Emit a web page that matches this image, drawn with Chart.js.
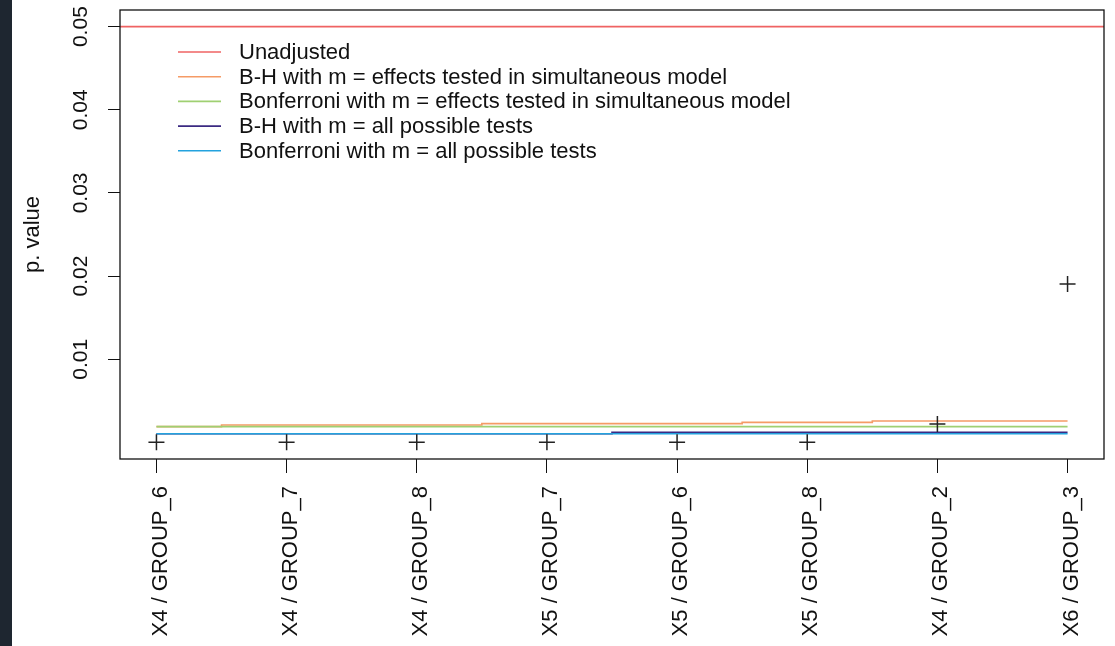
<!DOCTYPE html>
<html lang="en">
<head>
  <meta charset="UTF-8">
  <title>p. value</title>
  <script src="https://cdn.jsdelivr.net/npm/chart.js"></script>
  <style>
    body {
      margin: 0;
      background: white;
    }
    #strip {
      position: absolute;
      left: 0;
      top: 0;
      width: 12px;
      height: 646px;
      background-color: #1e2630;
      z-index: 2;
    }
    #chart {
      position: absolute;
      left: 0;
      top: 0;
    }
  </style>
</head>
<body>

  <div id="strip"></div>
  <canvas id="chart" width="1115" height="646"></canvas>

  <script>
    const categories = ['X4 / GROUP_6', 'X4 / GROUP_7', 'X4 / GROUP_8', 'X5 / GROUP_7',
                        'X5 / GROUP_6', 'X5 / GROUP_8', 'X4 / GROUP_2', 'X6 / GROUP_3'];
    const pValues = [0.00001, 0.00001, 0.00001, 0.00001, 0.00001, 0.00001, 0.00221, 0.01905];
    const unadjusted = 0.05;
    const bhSimultaneous = [0.00189, 0.00209, 0.00209, 0.00225, 0.00225, 0.00241, 0.00257, 0.00257];
    const bonfSimultaneous = [0.00189, 0.00189, 0.00189, 0.00189, 0.00189, 0.00189, 0.00189, 0.00189];
    const bhAll = [0.00104, 0.00104, 0.00104, 0.00104, 0.00120, 0.00120, 0.00120, 0.00120];
    const bonfAll = [0.00104, 0.00104, 0.00104, 0.00104, 0.00104, 0.00104, 0.00104, 0.00104];
    const yTicks = [0.01, 0.02, 0.03, 0.04, 0.05];
    const yTickLabels = ['0.01', '0.02', '0.03', '0.04', '0.05'];

    const seriesLabels = ['Unadjusted',
                          'B-H with m = effects tested in simultaneous model',
                          'Bonferroni with m = effects tested in simultaneous model',
                          'B-H with m = all possible tests',
                          'Bonferroni with m = all possible tests'];
    const seriesColors = ['#ef6363', '#f59b66', '#9fd072', '#3b2a82', '#23a2de'];

    // R style axis limits (4% extension)
    const xMin = 0.72, xMax = 8.28;
    const yMin = -0.002, yMax = 0.052;

    const FONT = '"Liberation Sans", Arial, sans-serif';

    const toXY = arr => arr.map((v, i) => ({ x: i + 1, y: v }));

    function stepLine(label, color, values, order) {
      return {
        label: label,
        data: toXY(values),
        borderColor: color,
        borderWidth: 1.6,
        pointRadius: 0,
        stepped: 'middle',
        fill: false,
        order: order
      };
    }

    const rFrame = {
      id: 'rFrame',
      afterDraw(chart) {
        const ctx = chart.ctx;
        const a = chart.chartArea;
        const y = chart.scales.y;
        ctx.save();
        ctx.strokeStyle = '#111';
        ctx.lineWidth = 1.3;
        ctx.strokeRect(a.left, a.top, a.right - a.left, a.bottom - a.top);

        // rotated y tick labels
        ctx.fillStyle = '#111';
        ctx.font = '21px ' + FONT;
        ctx.textAlign = 'center';
        ctx.textBaseline = 'middle';
        yTicks.forEach((v, i) => {
          ctx.save();
          ctx.translate(81, y.getPixelForValue(v));
          ctx.rotate(-Math.PI / 2);
          ctx.fillText(yTickLabels[i], 0, 0);
          ctx.restore();
        });

        // legend, no box
        ctx.font = '22px ' + FONT;
        ctx.textAlign = 'left';
        seriesLabels.forEach((lab, i) => {
          const yy = 52 + i * 24.7;
          ctx.strokeStyle = seriesColors[i];
          ctx.lineWidth = 1.6;
          ctx.beginPath();
          ctx.moveTo(178, yy);
          ctx.lineTo(221, yy);
          ctx.stroke();
          ctx.fillStyle = '#111';
          ctx.fillText(lab, 239, yy + 1);
        });
        ctx.restore();
      }
    };

    new Chart(document.getElementById('chart'), {
      type: 'line',
      data: {
        datasets: [
          {
            label: seriesLabels[0],
            data: [{ x: xMin, y: unadjusted }, { x: xMax, y: unadjusted }],
            borderColor: seriesColors[0],
            borderWidth: 1.6,
            pointRadius: 0,
            order: 6
          },
          stepLine(seriesLabels[1], seriesColors[1], bhSimultaneous, 5),
          stepLine(seriesLabels[2], seriesColors[2], bonfSimultaneous, 4),
          stepLine(seriesLabels[3], seriesColors[3], bhAll, 3),
          stepLine(seriesLabels[4], seriesColors[4], bonfAll, 2),
          {
            label: 'p',
            data: toXY(pValues),
            showLine: false,
            pointStyle: 'cross',
            pointRadius: 8,
            pointBorderColor: '#222',
            pointBorderWidth: 1.5,
            order: 1
          }
        ]
      },
      options: {
        responsive: false,
        animation: false,
        devicePixelRatio: 1,
        layout: { padding: { left: 0, top: 10, right: 11, bottom: 0 } },
        plugins: {
          legend: { display: false },
          tooltip: { enabled: false }
        },
        scales: {
          x: {
            type: 'linear',
            min: xMin,
            max: xMax,
            afterBuildTicks: s => { s.ticks = categories.map((c, i) => ({ value: i + 1 })); },
            afterFit: s => { s.height = 187; },
            border: { display: false },
            grid: { drawOnChartArea: false, drawTicks: true, tickLength: 14, color: '#111' },
            ticks: {
              autoSkip: false,
              minRotation: 90,
              maxRotation: 90,
              padding: 13,
              labelOffset: 4,
              color: '#111',
              font: { family: FONT, size: 22 },
              callback: v => categories[Math.round(v) - 1]
            }
          },
          y: {
            min: yMin,
            max: yMax,
            afterBuildTicks: s => { s.ticks = yTicks.map(v => ({ value: v })); },
            afterFit: s => { s.width = 120; },
            border: { display: false },
            grid: { drawOnChartArea: false, drawTicks: true, tickLength: 12, color: '#111' },
            ticks: { display: false },
            title: {
              display: true,
              text: 'p. value',
              color: '#111',
              padding: { top: 20, bottom: 0 },
              font: { family: FONT, size: 22 }
            }
          }
        }
      },
      plugins: [rFrame]
    });
  </script>

</body>
</html>
